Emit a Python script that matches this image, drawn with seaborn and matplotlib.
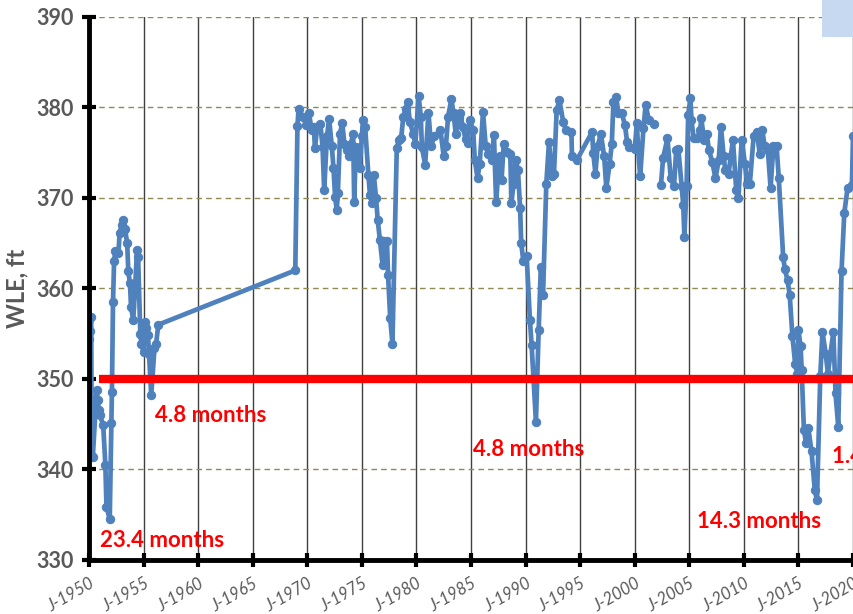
import numpy as np
import pandas as pd
import matplotlib
matplotlib.use("Agg")
import matplotlib.pyplot as plt
import seaborn as sns
from matplotlib.patches import Rectangle

# ---------------- data ----------------
years_a = [1950.0, 1950.1, 1950.2, 1950.25, 1950.35, 1950.7, 1950.8, 1950.9, 1951.0, 1951.3,
           1951.5, 1951.6, 1951.9, 1952.05, 1952.1, 1952.2, 1952.3, 1952.4, 1952.7, 1952.8,
           1953.0, 1953.15, 1953.3, 1953.5, 1953.6, 1953.75, 1953.85, 1954.05, 1954.2, 1954.4,
           1954.5, 1954.7, 1954.8, 1955.0, 1955.1, 1955.25, 1955.4, 1955.5, 1955.7, 1956.0,
           1956.15, 1956.35, 1968.9,
           1969.1, 1969.2, 1969.6, 1969.9, 1970.15, 1970.4, 1970.6, 1970.7, 1970.9, 1971.2,
           1971.4, 1971.55, 1971.8, 1972.0, 1972.25, 1972.4, 1972.55, 1972.7, 1972.8, 1973.0,
           1973.2, 1973.4, 1973.6, 1973.8, 1974.0, 1974.2, 1974.3, 1974.45, 1974.65, 1974.8,
           1975.0, 1975.1, 1975.3, 1975.6, 1975.75, 1975.95, 1976.1, 1976.3, 1976.45, 1976.65,
           1976.9, 1977.05, 1977.3, 1977.4, 1977.6, 1977.8, 1978.2, 1978.4, 1978.6, 1978.8,
           1979.0, 1979.2, 1979.4, 1979.7, 1979.9, 1980.2, 1980.4, 1980.5, 1980.8, 1981.1,
           1981.35, 1981.6, 1982.2, 1982.5, 1982.7, 1982.9, 1983.2, 1983.4, 1983.6, 1983.9,
           1984.0, 1984.25, 1984.5, 1984.7, 1984.9, 1985.2, 1985.35, 1985.6, 1985.8, 1986.1,
           1986.35, 1986.6, 1986.9, 1987.1, 1987.3, 1987.5, 1987.65, 1987.8, 1988.0, 1988.3,
           1988.6, 1988.7, 1988.9, 1989.1, 1989.3, 1989.5, 1989.6, 1989.8, 1990.1, 1990.4,
           1990.55, 1990.95, 1991.2, 1991.4, 1991.6, 1991.9, 1992.15, 1992.4, 1992.6, 1992.85,
           1993.1, 1993.45, 1993.7, 1994.2, 1994.25, 1994.7, 1996.1, 1996.2, 1996.4, 1996.6,
           1996.9, 1997.2, 1997.4, 1997.7, 1997.9, 1998.05, 1998.3, 1998.5, 1998.8, 1999.1,
           1999.3, 1999.5, 2000.0, 2000.2, 2000.3, 2000.5, 2000.8, 2001.0, 2001.3, 2001.8]
wle_a = [354.4, 355.3, 356.8, 341.5, 341.4, 348.8, 347.7, 346.6, 346.0, 344.9,
         340.5, 335.9, 334.5, 345.1, 348.6, 358.5, 363.0, 364.1, 363.9, 366.1,
         367.0, 367.6, 366.6, 365.0, 361.9, 360.6, 358.0, 356.5, 359.5, 364.3,
         363.5, 355.0, 353.9, 353.0, 356.3, 355.6, 354.9, 352.8, 348.2, 353.4,
         353.9, 356.0, 362.0,
         378.0, 379.8, 379.0, 378.1, 379.4, 377.5, 377.9, 375.5, 377.7, 378.2,
         375.6, 370.9, 376.8, 378.7, 375.7, 373.3, 370.1, 368.7, 370.5, 377.1,
         378.3, 376.0, 375.3, 374.6, 376.0, 377.1, 369.6, 375.6, 375.1, 373.3,
         376.8, 378.6, 377.9, 372.5, 370.3, 369.4, 372.5, 370.0, 367.6, 365.4,
         362.6, 365.2, 365.2, 361.5, 356.7, 353.9, 375.5, 376.4, 376.6, 379.0,
         379.8, 380.6, 378.4, 377.1, 376.0, 381.3, 379.0, 375.6, 373.7, 379.4,
         375.7, 376.8, 377.5, 374.6, 375.7, 379.0, 380.9, 379.4, 377.1, 379.0,
         379.4, 377.9, 376.5, 376.1, 378.6, 377.5, 374.2, 372.2, 373.8, 379.5,
         375.7, 374.9, 374.2, 377.0, 369.6, 372.8, 374.6, 372.0, 376.0, 375.1,
         374.9, 369.4, 371.6, 374.2, 373.1, 368.9, 365.0, 363.0, 363.6, 356.5,
         353.8, 345.3, 355.4, 362.4, 359.3, 371.6, 376.2, 372.4, 372.6, 379.7,
         380.8, 378.4, 377.5, 377.3, 374.6, 374.2, 377.3, 375.0, 372.7, 375.7,
         377.1, 374.6, 371.1, 373.8, 376.0, 380.6, 381.2, 379.4, 379.4, 378.1,
         376.2, 375.6, 375.4, 378.3, 375.6, 372.4, 377.7, 380.3, 378.6, 378.2]

years_b = [2002.4, 2002.6, 2003.0, 2003.3, 2003.6, 2003.8, 2004.0, 2004.3, 2004.45, 2004.55,
           2004.75, 2004.9, 2005.1, 2005.2, 2005.4, 2005.7, 2006.0, 2006.1, 2006.35, 2006.6,
           2006.8, 2007.1, 2007.4, 2007.7, 2007.9, 2008.15, 2008.3, 2008.6, 2008.8, 2009.0,
           2009.3, 2009.5, 2009.8, 2010.1, 2010.3, 2010.55, 2010.9, 2011.2, 2011.45, 2011.7,
           2011.9, 2012.2, 2012.45, 2012.7, 2013.0, 2013.2, 2013.6, 2013.75, 2014.0, 2014.2,
           2014.45, 2014.7, 2014.9, 2015.0, 2015.2, 2015.3, 2015.5, 2015.7, 2015.9, 2016.2,
           2016.5, 2016.7, 2017.0, 2017.2, 2017.5, 2017.7, 2018.2, 2018.4, 2018.65, 2018.95,
           2019.2, 2019.5, 2019.9, 2020.0]
wle_b = [371.4, 374.4, 376.6, 372.2, 371.3, 375.3, 375.4, 371.3, 369.2, 365.7,
         371.3, 379.2, 381.0, 378.6, 376.6, 376.6, 377.5, 378.8, 376.4, 377.1,
         375.3, 374.0, 372.2, 374.2, 377.9, 374.6, 373.1, 372.7, 374.6, 376.4,
         370.9, 370.0, 376.4, 373.8, 371.6, 371.6, 376.9, 377.3, 374.9, 377.5,
         375.7, 375.3, 371.1, 375.7, 375.7, 372.2, 363.5, 362.2, 360.9, 359.3,
         354.7, 351.7, 350.6, 355.4, 353.6, 351.0, 344.4, 342.9, 344.6, 342.0,
         337.7, 336.6, 350.3, 355.2, 352.8, 350.6, 355.2, 348.4, 344.7, 361.9,
         368.3, 371.1, 371.4, 376.8]

threshold = 350
threshold_start = 1950.9

labels_text = ["4.8 months", "23.4 months", "4.8 months", "14.3 months", "1.4 months"]
labels_x = [1956.05, 1951.0, 1985.2, 2005.7, 2018.1]
labels_y = [346.0, 332.2, 342.2, 334.3, 341.4]

xtick_years = list(range(1950, 2021, 5))
xtick_labels = [f"J-{y}" for y in xtick_years]
yticks = [330, 340, 350, 360, 370, 380, 390]

# ---------------- style ----------------
sns.set_style("white")
plt.rcParams['font.family'] = ['Lato', 'DejaVu Sans']

df_a = pd.DataFrame({"year": years_a, "wle": wle_a})
df_b = pd.DataFrame({"year": years_b, "wle": wle_b})

fig = plt.figure(figsize=(8.54, 6.14), dpi=100)
ax = fig.add_axes([89/854, 1 - 560/614, (853 - 89)/854, (560 - 17)/614])

blue = "#4F81BD"
for d in (df_a, df_b):
    sns.lineplot(data=d, x="year", y="wle", ax=ax, color=blue, lw=3.4,
                 marker="o", markersize=6, markeredgecolor=blue, markerfacecolor=blue,
                 estimator=None, sort=False, zorder=3)

ax.hlines(threshold, threshold_start, 2020, color="#FF0000", lw=6, zorder=4)

for t, x, y in zip(labels_text, labels_x, labels_y):
    ax.text(x, y, t, color="#FF0000", fontsize=16, fontweight="bold",
            ha="left", va="center", zorder=5, clip_on=False)

ax.set_xlim(1950, 2020)
ax.set_ylim(330, 390)
ax.set_xticks(xtick_years)
ax.set_xticklabels(xtick_labels, rotation=30, ha="right", rotation_mode="anchor",
                   fontsize=12, color="#595959", style="italic")
ax.set_yticks(yticks)
ax.set_yticklabels([str(v) for v in yticks], fontsize=15.5, fontweight="bold", color="#595959")

ax.set_xlabel("")
ax.set_ylabel("WLE, ft", fontsize=17, fontweight="bold", color="#595959", labelpad=6)

ax.xaxis.grid(True, color="#404040", lw=1.0, ls="-")
ax.yaxis.grid(True, color="#938953", lw=1.0, ls=(0, (4, 3)))
ax.set_axisbelow(True)

for s in ("top", "right"):
    ax.spines[s].set_visible(False)
for s in ("left", "bottom"):
    ax.spines[s].set_color("black")
    ax.spines[s].set_linewidth(3.5)
    ax.spines[s].set_zorder(6)

ax.tick_params(axis="both", which="major", direction="inout", length=10, width=3,
               color="black", bottom=True, left=True)
ax.tick_params(axis="x", pad=6)
ax.tick_params(axis="y", pad=6)

fig.patches.append(Rectangle((822/854, 1 - 37/614), 32/854, 37/614,
                             transform=fig.transFigure, facecolor="#C6D9F1",
                             edgecolor="none", zorder=10))

fig.savefig("out.png", dpi=100)
